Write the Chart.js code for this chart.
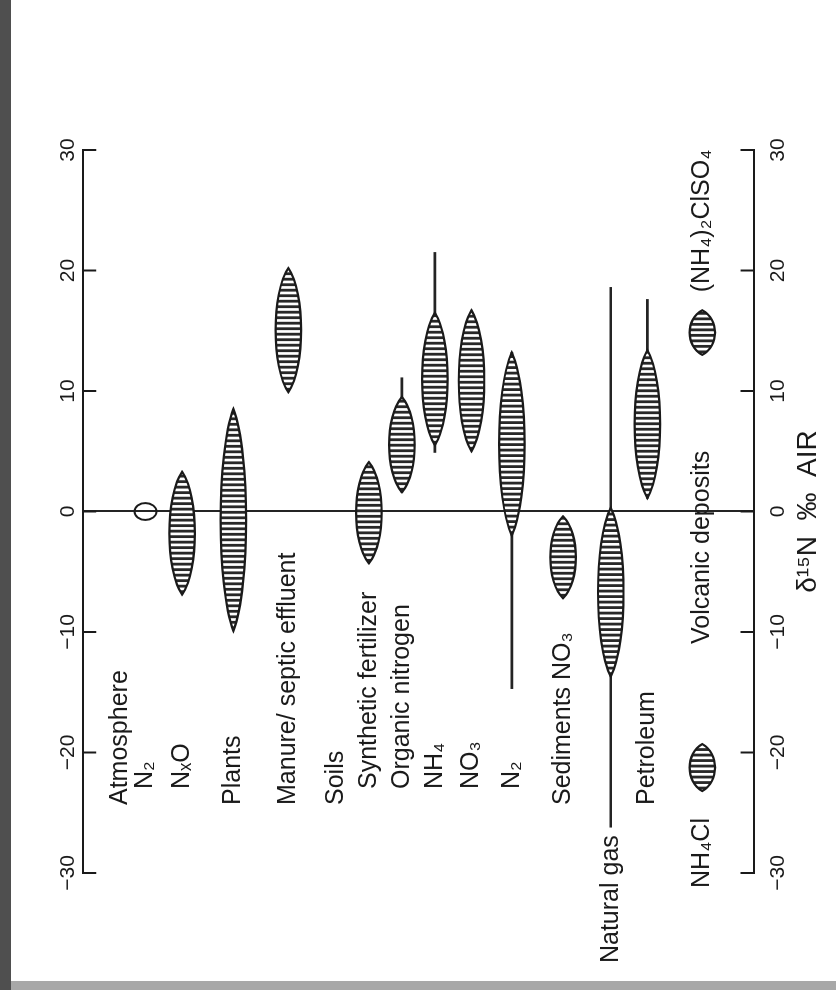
<!DOCTYPE html>
<html>
<head>
<meta charset="utf-8">
<script src="https://cdn.jsdelivr.net/npm/chart.js@4.4.1/dist/chart.umd.min.js"></script>
<style>
  html, body { margin: 0; padding: 0; background: #fff; }
  body { width: 836px; height: 990px; position: relative; overflow: hidden; }
  /* the figure is printed sideways, so the upright chart is turned a quarter left */
  #wrap { position: absolute; left: 0; top: 0; width: 990px; height: 836px;
          transform-origin: 0 0; transform: translate(0, 990px) rotate(-90deg); }
  .edge-left { position: absolute; left: 0; top: 0; width: 11px; height: 990px; background: #4f4f4f; }
  .edge-bottom { position: absolute; left: 11px; top: 981px; width: 825px; height: 9px; background: #a8a8a8; }
</style>
</head>
<body>
<div id="wrap"><canvas id="isoChart" width="990" height="836"></canvas></div>
<div class="edge-left"></div>
<div class="edge-bottom"></div>
<script>
  // rows, top to bottom
  var categories = ['Atmosphere', 'N₂', 'NₓO', 'Plants', 'Manure/ septic effluent', 'Soils',
    'Synthetic fertilizer', 'Organic nitrogen', 'NH₄', 'NO₃', 'N₂', 'Sediments NO₃',
    'Natural gas', 'Petroleum', 'Volcanic deposits'];
  var rowSlots = [0, 0.7, 1.7, 3.1, 4.6, 5.9, 6.8, 7.7, 8.6, 9.6, 10.7, 12.1, 13.4, 14.4, 15.9];

  // usual range of d15N (hatched lens), per mil
  var rangeLow  = [null, null, -6.9, -9.9,  9.9, null, -4.3, 1.6,  5.5,  5.0, -2.0, -7.2, -13.7,  1.1, null];
  var rangeHigh = [null, null,  3.3,  8.5, 20.2, null,  4.1, 9.5, 16.5, 16.7, 13.2, -0.4,   0.3, 13.4, null];
  // extreme values (thin line)
  var extremeLow  = [null, null, null, null, null, null, null, 1.6,  4.9, null, -14.7, null, -26.2,  1.1, null];
  var extremeHigh = [null, null, null, null, null, null, null, 11.1, 21.5, null, 13.2, null, 18.6, 17.6, null];

  var atmosphereN2 = [-0.7, 0.7];
  var volcanicNH4Cl = [-23.2, -19.3];
  var volcanicNH42ClSO4 = [13.0, 16.7];

  var valueTicks = [-30, -20, -10, 0, 10, 20, 30];

  var lensData = [];
  var lineData = [];
  for (var i = 0; i < categories.length; i++) {
    if (rangeLow[i] !== null) lensData.push({ x: [rangeLow[i], rangeHigh[i]], y: rowSlots[i] });
    if (extremeLow[i] !== null) lineData.push({ x: [extremeLow[i], extremeHigh[i]], y: rowSlots[i] });
  }
  lensData.push({ x: volcanicNH4Cl, y: rowSlots[14] });
  lensData.push({ x: volcanicNH42ClSO4, y: rowSlots[14] });

  var indented = [1, 2, 6, 7, 8, 9, 10];
  var ink = '#1a1a1a';

  function lensPath(ctx, x1, x2, yc, h) {
    var c = (x2 - x1) * 0.2, k = h * 0.68;
    ctx.beginPath();
    ctx.moveTo(x1, yc);
    ctx.bezierCurveTo(x1 + c, yc - k, x2 - c, yc - k, x2, yc);
    ctx.bezierCurveTo(x2 - c, yc + k, x1 + c, yc + k, x1, yc);
    ctx.closePath();
  }

  var lensShapes = {
    id: 'lensShapes',
    afterDatasetsDraw: function (chart) {
      var ctx = chart.ctx;
      chart.data.datasets.forEach(function (ds, di) {
        if (!ds.shape) return;
        chart.getDatasetMeta(di).data.forEach(function (bar) {
          var p = bar.getProps(['x', 'base', 'y', 'height'], true);
          var x1 = Math.min(p.x, p.base), x2 = Math.max(p.x, p.base), yc = p.y, h = p.height;
          ctx.save();
          if (ds.shape === 'ring') {
            ctx.beginPath();
            ctx.ellipse((x1 + x2) / 2, yc, (x2 - x1) / 2, h / 2, 0, 0, Math.PI * 2);
            ctx.lineWidth = 2;
            ctx.strokeStyle = ink;
            ctx.stroke();
            ctx.restore();
            return;
          }
          lensPath(ctx, x1, x2, yc, h);
          ctx.fillStyle = '#fff';
          ctx.fill();
          ctx.clip();
          ctx.strokeStyle = '#282828';
          ctx.lineWidth = 2.8;
          for (var x = x1 + 3; x < x2; x += 5.5) {
            ctx.beginPath();
            ctx.moveTo(x, yc - h);
            ctx.lineTo(x, yc + h);
            ctx.stroke();
          }
          ctx.restore();
          ctx.save();
          lensPath(ctx, x1, x2, yc, h);
          ctx.lineWidth = 2.2;
          ctx.strokeStyle = ink;
          ctx.stroke();
          ctx.restore();
        });
      });
    }
  };

  var rowLabels = {
    id: 'rowLabels',
    afterDatasetsDraw: function (chart) {
      var ctx = chart.ctx, xs = chart.scales.x, ys = chart.scales.y, left = chart.chartArea.left;
      ctx.save();
      ctx.font = '25px "Liberation Sans", Arial, sans-serif';
      ctx.fillStyle = ink;
      ctx.textBaseline = 'middle';
      categories.forEach(function (name, i) {
        var y = ys.getPixelForValue(rowSlots[i]);
        if (i === 12) {
          ctx.textAlign = 'right';
          ctx.fillText(name, xs.getPixelForValue(extremeLow[i]) - 8, y);
        } else if (i === 14) {
          ctx.textAlign = 'left';
          ctx.fillText(name, xs.getPixelForValue(-11), y);
          ctx.fillText('(NH₄)₂ClSO₄', xs.getPixelForValue(volcanicNH42ClSO4[1]) + 18, y);
          ctx.textAlign = 'right';
          ctx.fillText('NH₄Cl', xs.getPixelForValue(volcanicNH4Cl[0]) - 27, y);
        } else {
          ctx.textAlign = 'left';
          ctx.fillText(name, left + (indented.indexOf(i) >= 0 ? 84 : 68), y);
        }
      });
      ctx.restore();
    }
  };

  var inwardTicks = {
    id: 'inwardTicks',
    afterDraw: function (chart) {
      var ctx = chart.ctx, area = chart.chartArea;
      ctx.save();
      ctx.strokeStyle = ink;
      ctx.lineWidth = 2;
      ['x', 'x2'].forEach(function (id) {
        var s = chart.scales[id];
        s.ticks.forEach(function (t) {
          var px = s.getPixelForValue(t.value);
          ctx.beginPath();
          if (s.position === 'top') { ctx.moveTo(px, area.top); ctx.lineTo(px, area.top + 13); }
          else { ctx.moveTo(px, area.bottom); ctx.lineTo(px, area.bottom - 13); }
          ctx.stroke();
        });
      });
      ctx.restore();
    }
  };

  function minusLabel(v) { return v < 0 ? '\u2212' + Math.abs(v) : String(v); }
  function fixedTicks(s) { s.ticks = valueTicks.map(function (v) { return { value: v }; }); }

  Chart.defaults.font.family = '"Liberation Sans", Arial, sans-serif';
  Chart.defaults.color = ink;

  var isoChart = new Chart(document.getElementById('isoChart'), {
    type: 'bar',
    data: {
      datasets: [
        { label: 'range', shape: 'lens', data: lensData, backgroundColor: 'rgba(0,0,0,0)', borderWidth: 0, barThickness: 25 },
        { label: 'atmosphere', shape: 'ring', data: [{ x: atmosphereN2, y: rowSlots[1] }], backgroundColor: 'rgba(0,0,0,0)', borderWidth: 0, barThickness: 22 },
        { label: 'extremes', data: lineData, backgroundColor: '#242424', borderWidth: 0, barThickness: 2 }
      ]
    },
    options: {
      indexAxis: 'y',
      responsive: false,
      animation: false,
      events: [],
      grouped: false,
      layout: { padding: { left: 117, right: 150, top: 54, bottom: 0 } },
      plugins: { legend: { display: false }, tooltip: { enabled: false } },
      scales: {
        x: {
          type: 'linear', position: 'bottom', min: -30, max: 30,
          afterBuildTicks: fixedTicks,
          ticks: { font: { size: 21 }, padding: 12, callback: minusLabel },
          grid: {
            drawTicks: false, lineWidth: 2,
            color: function (c) { return c.tick && c.tick.value === 0 ? '#242424' : 'rgba(0,0,0,0)'; }
          },
          border: { display: true, color: ink, width: 2 },
          title: { display: true, text: 'δ¹⁵N  ‰  AIR', font: { size: 28, lineHeight: 0.4 }, padding: { top: 0, bottom: 22 } }
        },
        x2: {
          type: 'linear', position: 'top', min: -30, max: 30,
          afterBuildTicks: fixedTicks,
          ticks: { font: { size: 21 }, padding: 2, callback: minusLabel },
          grid: { display: false, drawTicks: false },
          border: { display: true, color: ink, width: 2 }
        },
        y: {
          type: 'linear', min: -1.0, max: 17.3, reverse: true, offset: false, display: false
        }
      }
    },
    plugins: [lensShapes, rowLabels, inwardTicks]
  });
</script>
</body>
</html>
